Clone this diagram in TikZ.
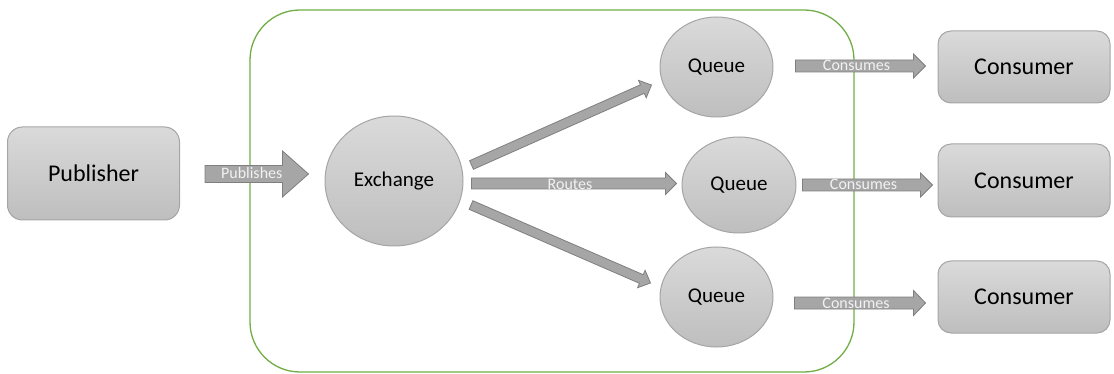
\documentclass[tikz,border=0pt]{standalone}
\usepackage{fontspec}
\setmainfont{Carlito}
\usetikzlibrary{calc,shapes.geometric}
\definecolor{shtop}{RGB}{218,218,218}
\definecolor{shbot}{RGB}{190,190,190}
\definecolor{shline}{RGB}{165,165,165}
\definecolor{arfill}{RGB}{166,166,166}
\definecolor{arline}{RGB}{127,127,127}
\definecolor{boxgreen}{RGB}{112,173,71}
\definecolor{lbl}{RGB}{242,242,242}
\tikzset{
  shade box/.style={draw=shline, line width=1pt, top color=shtop, bottom color=shbot},
  actor/.style={shade box, rectangle, rounded corners=13pt, minimum width=172pt, minimum height=72pt, font=\fontsize{24}{28}\selectfont},
  hub/.style={shade box, ellipse, inner sep=0pt, font=\fontsize{21}{25}\selectfont},
  container/.style={draw=boxgreen, line width=1.3pt, rounded corners=50pt, minimum width=604pt, minimum height=362pt},
  blockarrow/.style={draw=arline, fill=arfill, line width=0.8pt, line join=miter},
  arrowlabel/.style={anchor=base, text=lbl, inner sep=0pt, font=\fontsize{16}{18}\selectfont},
}
% #1 tail, #2 tip, #3 half shaft, #4 half head, #5 head length, #6 name
\newcommand\fatarrow[6]{%
  \coordinate (#6-t) at #1;
  \coordinate (#6-h) at #2;
  \coordinate (#6-b) at ($(#6-h)!#5!(#6-t)$);
  \draw[blockarrow] ($(#6-t)!#3!90:(#6-h)$) -- ($(#6-b)!#3!-90:(#6-t)$)
    -- ($(#6-b)!#4!-90:(#6-t)$) -- (#6-h) -- ($(#6-b)!#4!90:(#6-t)$)
    -- ($(#6-b)!#3!90:(#6-t)$) -- ($(#6-t)!#3!-90:(#6-h)$) -- cycle;
}
\begin{document}
\begin{tikzpicture}[x=1pt,y=-1pt]
\useasboundingbox (0,0) rectangle (1114,374);
\node[container] (broker) at (552,191) {};
\node[actor, minimum height=93pt, rounded corners=15pt] (pub) at (93.5,173.5) {Publisher};
\node[hub, minimum width=138pt, minimum height=130pt] (ex) at (394,181) {Exchange};
\node[hub, minimum width=113pt, minimum height=100pt] (q1) at (716.5,67) {Queue};
\node[hub, minimum width=114pt, minimum height=96pt] (q2) at (739,185) {Queue};
\node[hub, minimum width=113pt, minimum height=100pt] (q3) at (716.5,297) {Queue};
\node[actor] (c1) at (1024,67) {Consumer};
\node[actor, minimum height=73pt] (c2) at (1024,180.5) {Consumer};
\node[actor] (c3) at (1024,297) {Consumer};
% Publishes
\fatarrow{($(pub.east)+(25,0.5)$)}{($(pub.east -| ex.west)+(-16,0.5)$)}{8.5pt}{23pt}{26pt}{pa}
\node[arrowlabel] (pl) at ($(pa-t)!0.5!(pa-h)+(-5,5)$) {Publishes};
% Routes
\fatarrow{($(ex.east)+(8,2.5)$)}{($(ex.east -| q2.west)+(-5,2.5)$)}{5.5pt}{11pt}{11pt}{ra}
\node[arrowlabel] (rl) at ($(ra-t)!0.5!(ra-h)+(-4,6.5)$) {Routes};
% diagonals
\fatarrow{($(ex.east)+(8,-16)$)}{($(q1.west)+(-8,18)$)}{4.7pt}{9.5pt}{10pt}{ua}
\fatarrow{($(ex.east)+(7.5,24)$)}{($(q3.west)+(-9,-14)$)}{4.7pt}{9.5pt}{10pt}{da}
% Consumes
\fatarrow{($(q1.east)+(22,-1)$)}{($(q1.east -| c1.west)+(-12,-1)$)}{6pt}{12pt}{12pt}{ca}
\node[arrowlabel] (cl1) at ($(ca-t)!0.5!(ca-h)+(-4,5)$) {Consumes};
\fatarrow{($(q2.east)+(6,0)$)}{($(q2.east -| c2.west)+(-5,0)$)}{6pt}{12pt}{12pt}{cb}
\node[arrowlabel] (cl2) at ($(cb-t)!0.5!(cb-h)+(-4,5)$) {Consumes};
\fatarrow{($(q3.east)+(21,6)$)}{($(q3.east -| c3.west)+(-12,6)$)}{6pt}{12.5pt}{12pt}{cc}
\node[arrowlabel] (cl3) at ($(cc-t)!0.5!(cc-h)+(-4,5)$) {Consumes};
\end{tikzpicture}
\end{document}
